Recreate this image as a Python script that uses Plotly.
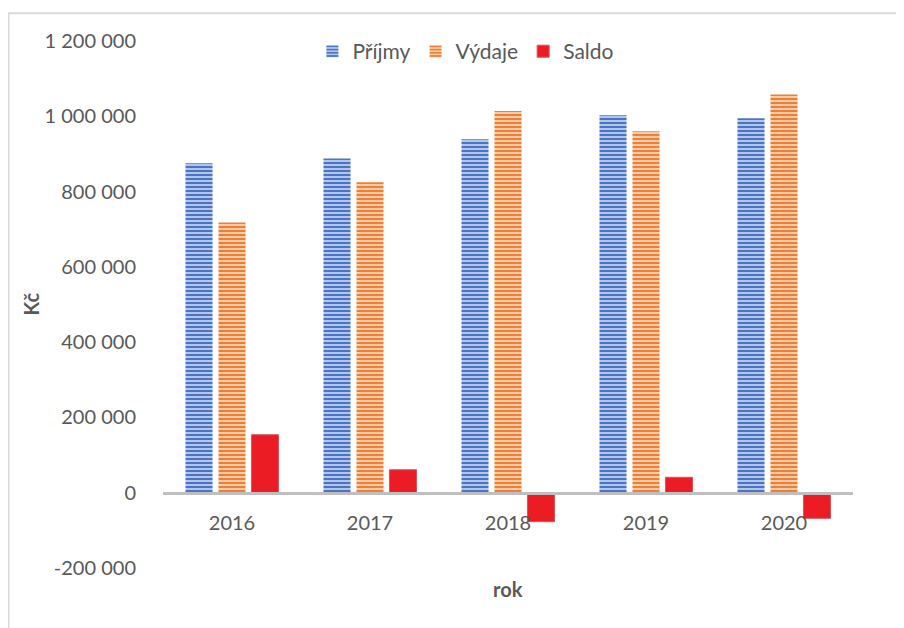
import plotly.graph_objects as go

years = ["2016", "2017", "2018", "2019", "2020"]
prijmy = [875000, 888000, 939000, 1003000, 995000]
vydaje = [718000, 825000, 1014000, 960000, 1058000]
saldo = [154000, 61000, -77000, 41000, -68000]
y_tickvals = [-200000, 0, 200000, 400000, 600000, 800000, 1000000, 1200000]
y_ticktext = ["-200 000", "0", "200 000", "400 000", "600 000", "800 000", "1 000 000", "1 200 000"]

FONT = "Lato"
GREY = "#595959"

fig = go.Figure()
fig.add_trace(go.Bar(
    name="Příjmy", x=years, y=prijmy,
    marker=dict(color="#4472C4", line=dict(width=0),
                pattern=dict(shape="-", fillmode="replace", fgcolor="#4A74C6",
                             bgcolor="#B3C6EA", size=4, solidity=0.5)),
))
fig.add_trace(go.Bar(
    name="Výdaje", x=years, y=vydaje,
    marker=dict(color="#ED7D31", line=dict(width=0),
                pattern=dict(shape="-", fillmode="replace", fgcolor="#EE8035",
                             bgcolor="#F9CBA8", size=4, solidity=0.5)),
))
fig.add_trace(go.Bar(
    name="Saldo", x=years, y=saldo,
    marker=dict(color="#EC1C24", line=dict(color="#D8545A", width=1)),
))

fig.update_layout(
    width=904, height=628,
    margin=dict(l=155, r=59, t=33, b=68),
    paper_bgcolor="white", plot_bgcolor="white",
    barmode="group", bargap=0.283, bargroupgap=0.18,
    font=dict(family=FONT, size=20, color=GREY),
    showlegend=True,
    legend=dict(orientation="h", x=0.439, xanchor="center", y=0.98, yanchor="middle",
                font=dict(family=FONT, size=21, color=GREY),
                bgcolor="rgba(0,0,0,0)", traceorder="normal"),
    xaxis=dict(type="category", anchor="free", position=1/7,
               showline=True, linecolor="#BFBFBF", linewidth=3,
               showgrid=False, zeroline=False,
               ticks="outside", ticklen=11, tickcolor="rgba(0,0,0,0)",
               tickfont=dict(family=FONT, size=20, color=GREY)),
    yaxis=dict(range=[-200000, 1200000], tickvals=y_tickvals, ticktext=y_ticktext,
               showline=False, showgrid=False, zeroline=False,
               ticks="outside", ticklen=22, tickcolor="rgba(0,0,0,0)",
               tickfont=dict(family=FONT, size=20, color=GREY)),
    annotations=[
        dict(text="<b>Kč</b>", xref="paper", yref="paper", x=-0.213, y=0.5,
             textangle=-90, showarrow=False, font=dict(family=FONT, size=20, color=GREY)),
        dict(text="<b>rok</b>", xref="paper", yref="paper", x=0.5, y=-0.066,
             showarrow=False, font=dict(family=FONT, size=20, color=GREY)),
    ],
    shapes=[
        dict(type="rect", xref="paper", yref="paper", x0=-0.224, x1=1.1, y0=-0.16, y1=1.0525,
             line=dict(color="#D9D9D9", width=2), fillcolor="rgba(0,0,0,0)", layer="below"),
    ],
)

fig.write_html("out.html")
